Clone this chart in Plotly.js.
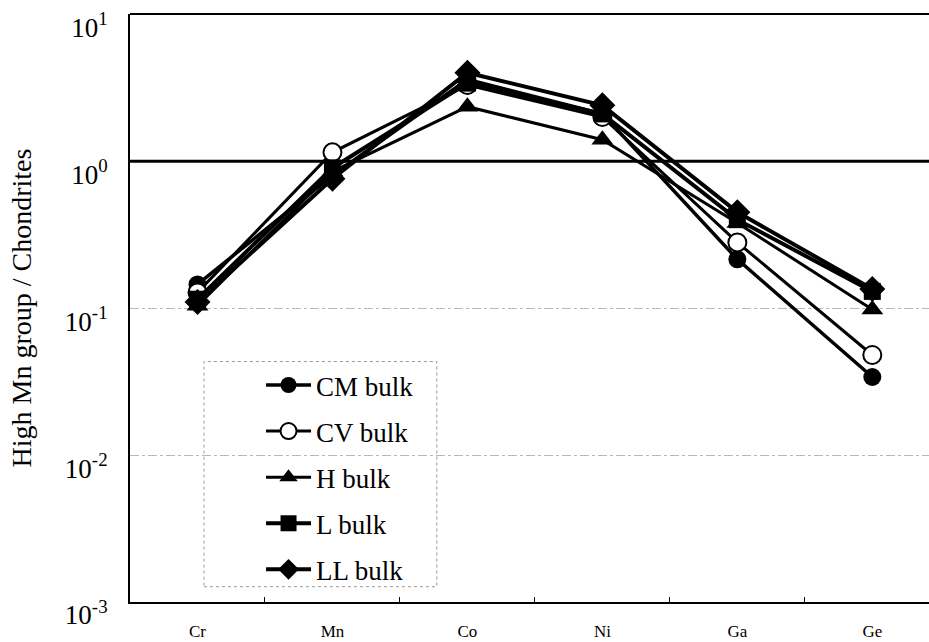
<!DOCTYPE html>
<html>
<head>
<meta charset="utf-8">
<script src="https://cdn.plot.ly/plotly-3.0.1.min.js"></script>
<style>html,body{margin:0;padding:0;background:#fff;}#chart{width:929px;height:642px;}</style>
</head>
<body>
<div id="chart"></div>
<script>
const elements = ["Cr", "Mn", "Co", "Ni", "Ga", "Ge"];
const seriesNames = ["CM bulk", "CV bulk", "H bulk", "L bulk", "LL bulk"];
const cmBulk = [0.145, 0.80, 3.6, 2.1, 0.215, 0.034];
const cvBulk = [0.128, 1.15, 3.3, 2.0, 0.28, 0.048];
const hBulk  = [0.104, 0.85, 2.35, 1.4, 0.38, 0.098];
const lBulk  = [0.115, 0.90, 3.4, 2.1, 0.40, 0.13];
const llBulk = [0.110, 0.76, 4.0, 2.4, 0.45, 0.135];
const yTickVals = [0.001, 0.01, 0.1, 1, 10];
const yTickText = ["10<sup>-3</sup>", "10<sup>-2</sup>", "10<sup>-1</sup>", "10<sup>0</sup>", "10<sup>1</sup>"];

const values = [cmBulk, cvBulk, hBulk, lBulk, llBulk];
const symbols = ["circle", "circle-open", "triangle-up", "square", "diamond"];
const sizes = [18, 18, 19, 17, 20];
const widths = [3.5, 3, 3, 4, 4];

const traces = values.map((v, i) => ({
  type: "scatter",
  mode: "lines+markers",
  name: seriesNames[i],
  legendgroup: "g" + i,
  x: elements,
  y: v,
  line: {color: "#000", width: widths[i]},
  marker: {
    symbol: symbols[i] === "circle-open" ? "circle" : symbols[i],
    size: sizes[i],
    color: symbols[i] === "circle-open" ? "#fff" : "#000",
    line: {color: "#000", width: symbols[i] === "circle-open" ? 2 : 0}
  }
}));

const layout = {
  width: 929,
  height: 642,
  margin: {l: 130, r: 0, t: 14, b: 40},
  paper_bgcolor: "#fff",
  plot_bgcolor: "#fff",
  font: {family: "Liberation Serif, Times New Roman, serif", color: "#000"},
  showlegend: true,
  legend: {
    x: 0.164, y: 0.41, xanchor: "left", yanchor: "top",
    bgcolor: "rgba(0,0,0,0)", borderwidth: 0,
    font: {size: 27, family: "Liberation Serif, serif", color: "#000"},
    tracegroupgap: 8,
    itemwidth: 45
  },
  xaxis: {
    type: "category",
    range: [-0.5, 5.42],
    showline: true, linecolor: "#000", linewidth: 2,
    showgrid: false, zeroline: false,
    ticks: "inside", tickson: "boundaries", ticklen: 5, tickcolor: "#000",
    ticklabelstandoff: 13,
    tickfont: {size: 17, family: "Liberation Serif, serif"}
  },
  yaxis: {
    type: "log",
    range: [-3, 1.002],
    tickvals: yTickVals,
    ticktext: yTickText,
    showline: true, linecolor: "#000", linewidth: 2,
    showgrid: true, gridcolor: "#b8b8b8", griddash: "dashdot", gridwidth: 1,
    zeroline: false,
    ticks: "",
    ticklabelstandoff: 15,
    ticklabelshift: 13,
    ticklabeloverflow: "allow",
    tickfont: {size: 27, family: "Liberation Serif, serif"},
    title: {text: "High Mn group / Chondrites", font: {size: 28, family: "Liberation Serif, serif"}, standoff: 25}
  },
  shapes: [
    {type: "line", xref: "paper", yref: "paper", x0: 0, x1: 1, y0: 0.7496, y1: 0.7496, line: {color: "#000", width: 3}},
    {type: "line", xref: "paper", yref: "paper", x0: 0, x1: 1, y0: 1, y1: 1, line: {color: "#000", width: 2}},
    {type: "rect", xref: "paper", yref: "paper", x0: 0.0926, x1: 0.384, y0: 0.026, y1: 0.409,
     line: {color: "#999", width: 1, dash: "dot"}, fillcolor: "rgba(255,255,255,1)", layer: "below"}
  ]
};

Plotly.newPlot("chart", traces, layout, {displayModeBar: false, staticPlot: true});
</script>
</body>
</html>
